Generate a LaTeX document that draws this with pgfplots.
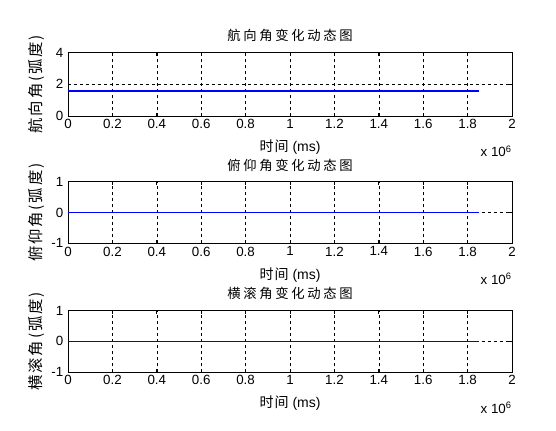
\documentclass[border=0pt]{standalone}
\usepackage{pgfplots}
\pgfplotsset{compat=1.18}
\usepackage{fontspec}
\setmainfont{Liberation Sans}
\newfontfamily\cjk{Noto Sans CJK SC}
\newfontfamily\cjkl[LetterSpace=20]{Noto Sans CJK SC}
\newfontfamily\cjky[LetterSpace=12]{Noto Sans CJK SC}
\newfontfamily\cjkx[LetterSpace=8]{Noto Sans CJK SC}
\definecolor{mblue}{rgb}{0,0,1}
\pgfplotsset{
  mat/.style={
    scale only axis,
    width=333pt,
    anchor=south west,
    xmin=0, xmax=2000000,
    xtick={0,200000,400000,600000,800000,1000000,1200000,1400000,1600000,1800000,2000000},
    xticklabels={0,0.2,0.4,0.6,0.8,1,1.2,1.4,1.6,1.8,2},
    scaled x ticks=false,
    /pgf/number format/assume math mode=true,
    font=\fontsize{10}{12}\selectfont,
    tick align=inside,
    major tick length=2.25pt,
    tick style={black, line width=0.5pt},
    axis line style={black, line width=0.6pt},
    grid=major,
    major grid style={black, line width=0.45pt, dash pattern=on 2.25pt off 2.25pt},
    title style={at={(0.5,1)}, anchor=center, yshift=6.5pt, font=\fontsize{10}{12}\selectfont\cjkl},
    xlabel style={at={(0.5,0)}, anchor=center, yshift=-23.5pt, font=\fontsize{10.5}{12}\selectfont},
    ylabel style={at={(-0.07,0.5)}, anchor=center, font=\fontsize{11.5}{13}\selectfont\cjky},
    xticklabel style={yshift=1pt},
    xlabel={{\cjkx 时间} (ms)},
    clip=false,
  }
}
\begin{document}
\begin{tikzpicture}
\path[use as bounding box, fill=white] (0pt,0pt) rectangle (417pt,322.5pt);
% top
\begin{axis}[mat, at={(51pt,235.5pt)}, height=47.6pt,
  ymin=0, ymax=4, ytick={0,2,4},
  title={航向角变化动态图}, ylabel={航向角(弧度)}]
\addplot[color=mblue, line width=0.9pt] coordinates {(0,1.5708) (1850000,1.5708)};
\node[anchor=east, inner sep=0pt] at (rel axis cs:1,0) [yshift=-26.5pt] {x 10\textsuperscript{6}};
\end{axis}
% middle
\begin{axis}[mat, at={(51pt,140pt)}, height=46.2pt,
  ymin=-1, ymax=1, ytick={-1,0,1},
  title={俯仰角变化动态图}, ylabel={俯仰角(弧度)}]
\addplot[color=mblue, line width=1.1pt] coordinates {(0,0) (1850000,0)};
\node[anchor=east, inner sep=0pt] at (rel axis cs:1,0) [yshift=-26.5pt] {x 10\textsuperscript{6}};
\end{axis}
% bottom
\begin{axis}[mat, at={(51pt,43.4pt)}, height=46.2pt,
  ymin=-1, ymax=1, ytick={-1,0,1},
  title={横滚角变化动态图}, ylabel={横滚角(弧度)}]
\addplot[color=mblue, line width=1.1pt] coordinates {(0,0) (1850000,0)};
\node[anchor=east, inner sep=0pt] at (rel axis cs:1,0) [yshift=-26.5pt] {x 10\textsuperscript{6}};
\end{axis}
\end{tikzpicture}
\end{document}
